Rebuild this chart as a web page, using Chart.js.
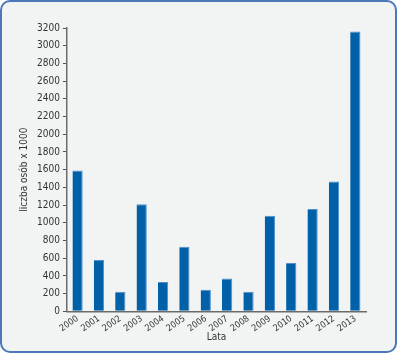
<!DOCTYPE html>
<html>
<head>
<meta charset="utf-8">
<script src="https://cdn.jsdelivr.net/npm/chart.js@4/dist/chart.umd.min.js"></script>
<style>
  html, body { margin: 0; padding: 0; background: #ffffff; }
  #ramka {
    position: absolute; left: 0; top: 0;
    width: 397px; height: 353px;
    box-sizing: border-box;
    border: 2px solid #4a78b8;
    border-radius: 10px;
    background: #f2f4f4;
  }
  #wykres { position: absolute; left: 0; top: 0; width: 397px; height: 353px; }
</style>
</head>
<body>
<div id="ramka"></div>
<div id="wykres"><canvas id="slupki"></canvas></div>
<script>
// dane (liczba osób x 1000)
var lata = ['2000', '2001', '2002', '2003', '2004', '2005', '2006', '2007', '2008', '2009', '2010', '2011', '2012', '2013'];
var liczbaOsob = [1590, 580, 220, 1210, 330, 730, 245, 370, 220, 1080, 545, 1155, 1465, 3160];
var tytulX = 'Lata';
var tytulY = 'liczba osób x 1000';

var czcionka = "'Liberation Sans Narrow', 'Arial Narrow', 'DejaVu Sans Condensed', sans-serif";

const ctxSlupki = document.getElementById('slupki');

const dataSlupki = {
    labels: lata,
    datasets: [{
        label: tytulY,
        data: liczbaOsob,
        backgroundColor: '#0061a8',
        borderColor: '#4f8fcc',
        borderWidth: { top: 1, right: 1, left: 0, bottom: 0 },
        barPercentage: 0.48,
        categoryPercentage: 1
    }]
}

const configSlupki = {
    type: 'bar',
    data: dataSlupki,
    options: {
        responsive: true,
        maintainAspectRatio: false,
        animation: false,
        layout: {
            padding: { top: 28, right: 31, bottom: 10, left: 18 }
        },
        plugins: {
            legend: { display: false },
            tooltip: { enabled: false }
        },
        scales: {
            x: {
                grid: { display: false, drawTicks: false },
                border: { color: '#6b6b6b', width: 1.5 },
                ticks: {
                    autoSkip: false,
                    minRotation: 35,
                    maxRotation: 35,
                    padding: 2,
                    color: '#333333',
                    font: { family: czcionka, size: 9 }
                },
                title: {
                    display: true,
                    text: tytulX,
                    color: '#333333',
                    padding: { top: -5, bottom: 0 },
                    font: { family: czcionka, size: 10 }
                }
            },
            y: {
                min: 0,
                max: 3200,
                ticks: {
                    stepSize: 200,
                    padding: 3,
                    color: '#333333',
                    font: { family: czcionka, size: 10 },
                    callback: function (wartosc) { return String(wartosc); }
                },
                grid: {
                    drawOnChartArea: false,
                    drawTicks: true,
                    tickLength: 4,
                    color: '#555555',
                    lineWidth: 1
                },
                border: { color: '#6b6b6b', width: 1.5 },
                title: {
                    display: true,
                    text: tytulY,
                    color: '#333333',
                    padding: { top: 0, bottom: 4 },
                    font: { family: czcionka, size: 10 }
                }
            }
        }
    }
};

new Chart(ctxSlupki, configSlupki);
</script>
</body>
</html>
